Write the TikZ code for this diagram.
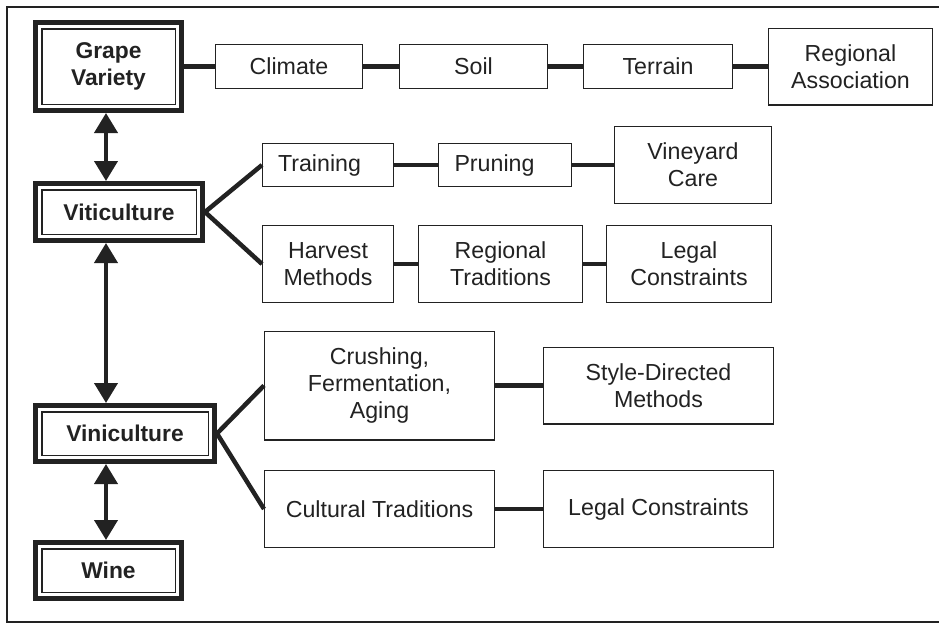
\documentclass[tikz,border=0pt]{standalone}
\usepackage{fontspec}
\setmainfont{Liberation Sans}
\usetikzlibrary{arrows.meta}
\definecolor{ink}{HTML}{222222}
\begin{document}
\begin{tikzpicture}[x=1pt,y=-1pt,
  every node/.style={inner sep=0pt, text=ink},
  sub/.style={draw=ink, line width=1.3pt, font=\fontsize{23.2}{27}\selectfont, align=center},
  mainbox/.style={draw=ink, line width=4.8pt, font=\bfseries\fontsize{22.8}{26.5}\selectfont, align=center,
     path picture={\draw[ink, line width=1.8pt] ([shift={(6.2pt,-6.2pt)}]path picture bounding box.north west) rectangle ([shift={(-6.2pt,6.2pt)}]path picture bounding box.south east);}},
  link/.style={draw=ink, line width=4.5pt},
  biarrow/.style={draw=ink, line width=4pt, {Triangle[width=23pt,length=20pt]}-{Triangle[width=23pt,length=20pt]}}
]
\useasboundingbox (0,0) rectangle (939,624);
% frame
\draw[ink, line width=2pt] (950,7) -- (7,7) -- (7,622) -- (950,622);

% main column
\node[mainbox, minimum width=146.2pt, minimum height=88.2pt] (gv) at (108.5,66.5) {Grape\\Variety};
\node[mainbox, minimum width=167.2pt, minimum height=57.2pt] (vt) at (119,212) {Viticulture};
\node[mainbox, minimum width=179.2pt, minimum height=56.2pt] (vn) at (125,433.5) {Viniculture};
\node[mainbox, minimum width=146.2pt, minimum height=56.2pt] (wn) at (108.5,570.5) {Wine};

\coordinate (ax) at (106,0);
\draw[biarrow] (gv.south -| ax) -- (vt.north -| ax);
\draw[biarrow] (vt.south -| ax) -- (vn.north -| ax);
\draw[biarrow] (vn.south -| ax) -- (wn.north -| ax);

% row 1
\node[sub, minimum width=146.7pt, minimum height=43.7pt] (cl) at (289,66.5) {Climate};
\node[sub, minimum width=147.7pt, minimum height=43.7pt] (so) at (473.5,66.5) {Soil};
\node[sub, minimum width=148.7pt, minimum height=43.7pt] (te) at (658,66.5) {Terrain};
\node[sub, minimum width=163.7pt, minimum height=76.7pt] (ra) at (850.5,66.5) {Regional\\Association};
\draw[link] (gv.east) -- (cl.west);
\draw[link] (cl.east) -- (so.west);
\draw[link] (so.east) -- (te.west);
\draw[link] (te.east) -- (ra.west);

% viticulture rows
\node[sub, minimum width=130.7pt, minimum height=42.7pt] (tr) at (328,165) {Training\hspace*{17pt}};
\node[sub, minimum width=132.7pt, minimum height=42.7pt] (pr) at (505,165) {Pruning\hspace*{21pt}};
\node[sub, minimum width=156.7pt, minimum height=76.7pt] (vc) at (693,165) {Vineyard\\Care};
\node[sub, minimum width=130.7pt, minimum height=76.7pt] (hm) at (328,264) {Harvest\\Methods};
\node[sub, minimum width=163.7pt, minimum height=76.7pt] (rt) at (500.5,264) {Regional\\Traditions};
\node[sub, minimum width=164.7pt, minimum height=76.7pt] (lc) at (689,264) {Legal\\Constraints};
\draw[link] (vt.east) -- (tr.west);
\draw[link] (vt.east) -- (hm.west);
\draw[link] (tr.east) -- (pr.west);
\draw[link] (pr.east) -- (vc.west);
\draw[link] (hm.east) -- (rt.west);
\draw[link] (rt.east) -- (lc.west);

% viniculture rows
\node[sub, minimum width=229.7pt, minimum height=108.7pt] (cr) at (379.5,385.5) {Crushing,\\Fermentation,\\Aging};
\node[sub, minimum width=229.7pt, minimum height=76.7pt] (sd) at (658.5,385.5) {Style-Directed\\Methods};
\node[sub, minimum width=229.7pt, minimum height=76.7pt] (ct) at (379.5,509) {Cultural Traditions};
\node[sub, minimum width=229.7pt, minimum height=76.7pt] (lc2) at (658.5,509) {Legal Constraints};
\draw[link] (vn.east) -- (cr.west);
\draw[link] (vn.east) -- (ct.west);
\draw[link] (cr.east) -- (sd.west);
\draw[link] (ct.east) -- (lc2.west);
\end{tikzpicture}
\end{document}
